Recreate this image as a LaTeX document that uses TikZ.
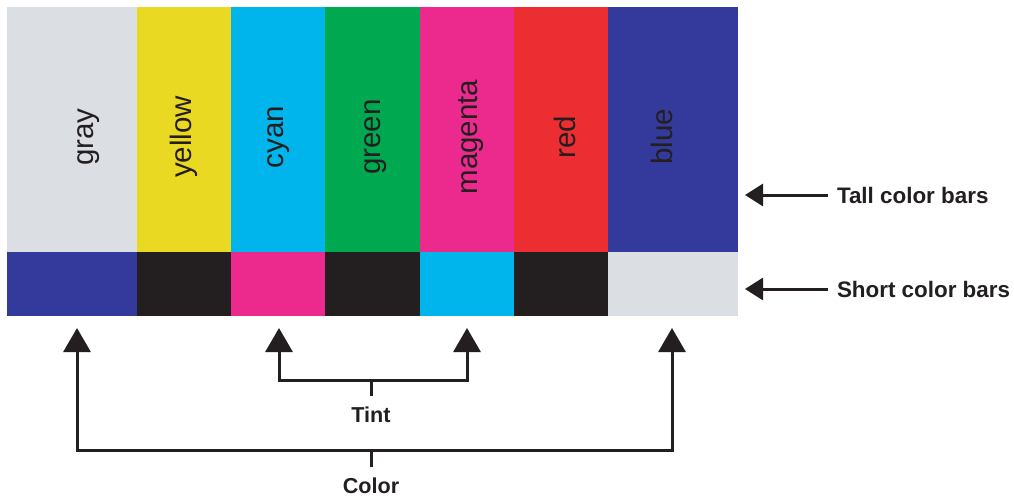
\documentclass[tikz,border=0pt]{standalone}
\usepackage{fontspec}
\setmainfont{Liberation Sans}
\usetikzlibrary{arrows.meta,calc}
\definecolor{cgray}{HTML}{DBDEE3}
\definecolor{cyellow}{HTML}{E9D923}
\definecolor{ccyan}{HTML}{00B5EC}
\definecolor{cgreen}{HTML}{00A94F}
\definecolor{cmagenta}{HTML}{EC2A8E}
\definecolor{cred}{HTML}{EC2D32}
\definecolor{cblue}{HTML}{343A9B}
\definecolor{cblack}{HTML}{231F20}
\tikzset{
  tallbar/.style={draw=none,inner sep=0pt,outer sep=0pt,minimum height=245pt,anchor=north west},
  shortbar/.style={draw=none,inner sep=0pt,outer sep=0pt,minimum height=64pt,anchor=north west},
  lbl/.style={rotate=90,anchor=base,inner sep=0pt,text=cblack,font=\fontsize{29.5pt}{30pt}\selectfont},
  sidelbl/.style={anchor=base west,inner xsep=9pt,inner ysep=0pt,outer sep=0pt,text=cblack,font=\bfseries\fontsize{22.4pt}{24pt}\selectfont},
  botlbl/.style={anchor=base,inner xsep=0pt,inner ysep=10pt,outer sep=0pt,text=cblack,font=\bfseries\fontsize{21.6pt}{24pt}\selectfont},
  sidearrow/.style={draw=cblack,line width=3pt,-{Triangle[length=18pt,width=22pt]},shorten >=7pt},
  bracket/.style={draw=cblack,line width=3pt,line join=miter,{Triangle[length=24pt,width=27pt]}-{Triangle[length=24pt,width=27pt]}},
  stub/.style={draw=cblack,line width=3pt}
}
\begin{document}
\begin{tikzpicture}[x=1pt,y=-1pt]
\useasboundingbox (0,0) rectangle (1014,499);
\fill[white] (0,0) rectangle (1014,499);
% tall bars
\node[tallbar,fill=cgray,minimum width=130pt] (tGray) at (7,7) {};
\node[tallbar,fill=cyellow,minimum width=94pt] (tYellow) at (137,7) {};
\node[tallbar,fill=ccyan,minimum width=94pt] (tCyan) at (231,7) {};
\node[tallbar,fill=cgreen,minimum width=95pt] (tGreen) at (325,7) {};
\node[tallbar,fill=cmagenta,minimum width=94pt] (tMagenta) at (420,7) {};
\node[tallbar,fill=cred,minimum width=94pt] (tRed) at (514,7) {};
\node[tallbar,fill=cblue,minimum width=130pt] (tBlue) at (608,7) {};
% short bars
\node[shortbar,fill=cblue,minimum width=130pt] (sBlue) at (7,252) {};
\node[shortbar,fill=cblack,minimum width=94pt] (sBlackA) at (137,252) {};
\node[shortbar,fill=cmagenta,minimum width=94pt] (sMagenta) at (231,252) {};
\node[shortbar,fill=cblack,minimum width=95pt] (sBlackB) at (325,252) {};
\node[shortbar,fill=ccyan,minimum width=94pt] (sCyan) at (420,252) {};
\node[shortbar,fill=cblack,minimum width=94pt] (sBlackC) at (514,252) {};
\node[shortbar,fill=cgray,minimum width=130pt] (sGray) at (608,252) {};
% bar labels
\node[lbl] (lGray) at (93,137) {gray};
\node[lbl] (lYellow) at (191,137) {yellow};
\node[lbl] (lCyan) at (283,137) {cyan};
\node[lbl] (lGreen) at (380,137) {green};
\node[lbl] (lMagenta) at (477,137) {magenta};
\node[lbl] (lRed) at (575,137) {red};
\node[lbl] (lBlue) at (672,137) {blue};
% side labels and arrows
\node[sidelbl] (tallLbl) at (828,203) {Tall color bars};
\node[sidelbl] (shortLbl) at (828,297) {Short color bars};
\draw[sidearrow] (tallLbl.west) -- (tallLbl.west -| tBlue.east);
\draw[sidearrow] (shortLbl.west) -- (shortLbl.west -| sGray.east);
% bottom brackets
\coordinate (aL) at ($(sBlue.south)+(5,12)$);
\coordinate (aC) at ($(sMagenta.south)+(1,12)$);
\coordinate (aM) at ($(sCyan.south)+(0,12)$);
\coordinate (aR) at ($(sGray.south)+(-1,12)$);
\coordinate (tintBar) at ($(aC)+(0,52)$);
\coordinate (colorBar) at ($(aL)+(0,122)$);
\draw[bracket] (aC) -- (tintBar) -| (aM);
\draw[bracket] (aL) -- (colorBar) -| (aR);
\node[botlbl] (tint) at (371,422) {Tint};
\node[botlbl] (color) at (371,493) {Color};
\draw[stub] (tint.north) -- (tint.north |- tintBar);
\draw[stub] (color.north) -- (color.north |- colorBar);
\end{tikzpicture}
\end{document}
